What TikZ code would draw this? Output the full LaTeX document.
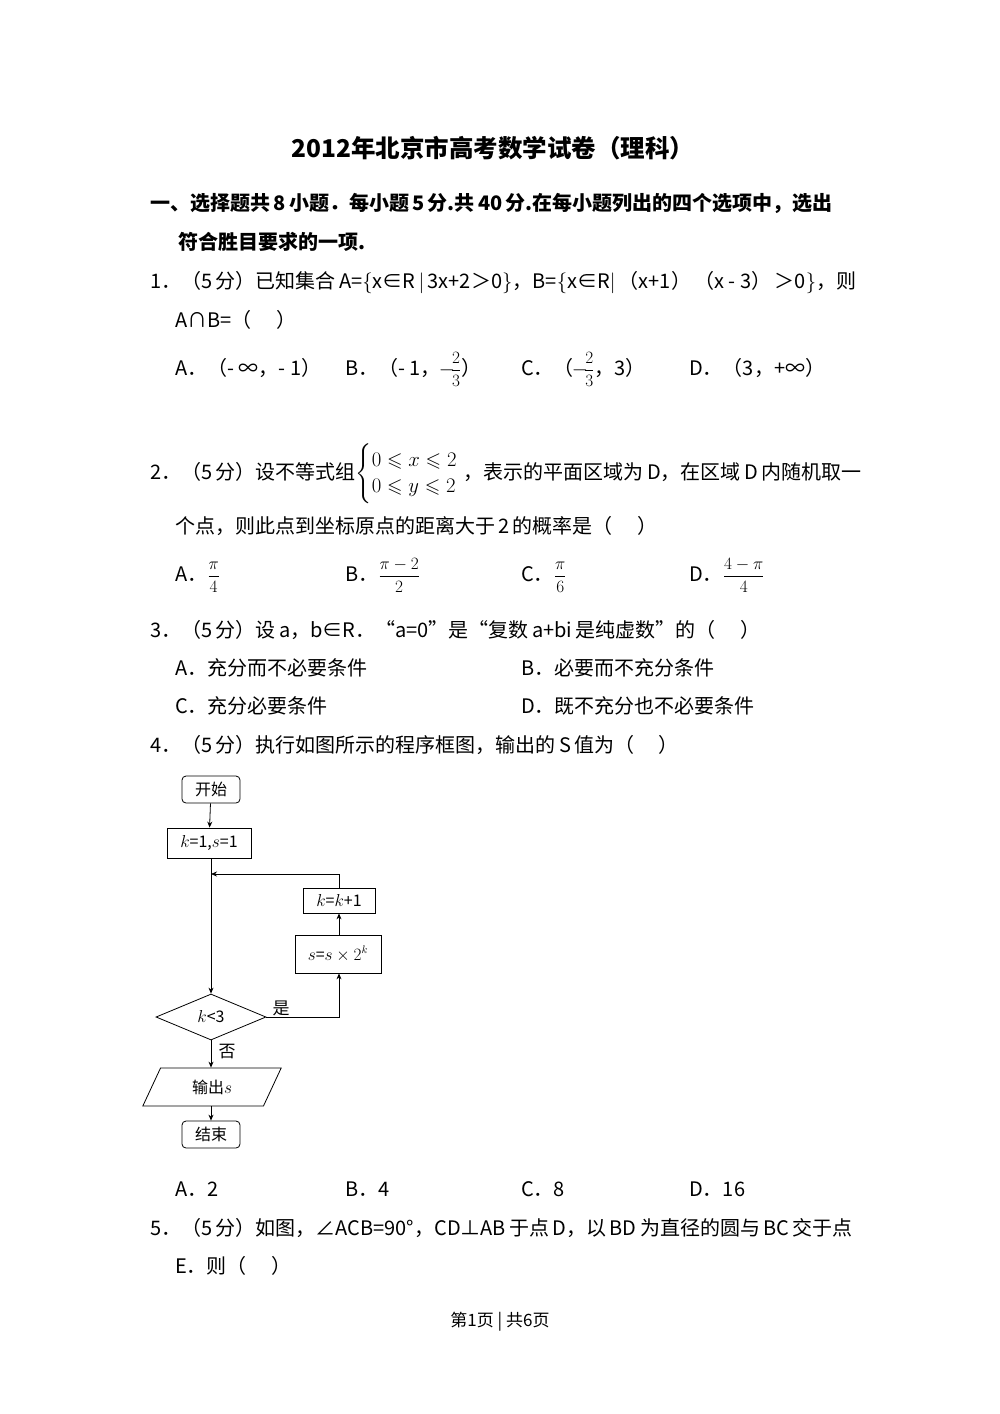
\documentclass[tikz,border=0pt]{standalone}
\usepackage{amsmath,amssymb}
\usepackage{fontspec}
\setmainfont{Noto Sans CJK SC}
\usetikzlibrary{shapes.geometric,arrows.meta}
\newcommand{\fr}[2]{{\fontsize{16}{18}\selectfont$\dfrac{#1}{#2}$}}
\begin{document}
\begin{tikzpicture}[x=1pt,y=-1pt,
  t/.style={anchor=base west,inner sep=0pt,font=\fontsize{20}{24}\selectfont},
  b/.style={draw,line width=0.8pt,inner sep=0pt,font=\fontsize{16}{18}\selectfont},
  ar/.style={-{Stealth[length=6pt,width=5pt]},line width=0.8pt},
  ln/.style={line width=0.8pt}]
\useasboundingbox (0,0) rectangle (1000,1414);
\fill[white] (0,0) rectangle (1000,1414);
\node[anchor=base,inner sep=0pt,font=\fontsize{24.5}{28}\selectfont\bfseries] (title) at (493,157) {2012年北京市高考数学试卷（理科）};
\node[t,font=\fontsize{20}{24}\selectfont\bfseries] (s1) at (150,210) {一、选择题共\,8\,小题．每小题\,5\,分.共\,40\,分.在每小题列出的四个选项中，选出};
\node[t,font=\fontsize{20}{24}\selectfont\bfseries] (s1b) at (178,249) {符合胜目要求的一项.};
\node[t] (q1) at (150,288) {1．（5\,分）已知集合\,A=$\{$x∈R\,$|$\,3x+2＞0$\}$，B=$\{$x∈R$|$\,（x+1）\,（x - 3）\,＞0$\}$，则};
\node[t] (q1b) at (175,327) {A∩B=（\quad\ ）};
\node[t] (q1A) at (175,375) {A．（- ∞，- 1）};
\node[t] (q1B) at (345,375) {B．（- 1，\hspace{-2pt}$-$\hspace{-4pt}\fr{2}{3}）};
\node[t] (q1C) at (521,375) {C．（\hspace{-2pt}$-$\hspace{-4pt}\fr{2}{3}，3）};
\node[t] (q1D) at (689,375) {D．（3，+∞）};
\node[t] (q2) at (150,479) {2．（5\,分）设不等式组$\begin{cases}0\leqslant x\leqslant 2\\[-2pt]0\leqslant y\leqslant 2\end{cases}$\hspace{-14pt}，表示的平面区域为\,D，在区域\,D\,内随机取一};
\node[t] (q2b) at (175,533) {个点，则此点到坐标原点的距离大于\,2\,的概率是（\quad\ ）};
\node[t] (q2A) at (175,581) {A．\fr{\pi}{4}};
\node[t] (q2B) at (345,581) {B．\fr{\pi-2}{2}};
\node[t] (q2C) at (521,581) {C．\fr{\pi}{6}};
\node[t] (q2D) at (689,581) {D．\fr{4-\pi}{4}};
\node[t] (q3) at (150,637) {3．（5\,分）设\,a，b∈R．“a=0”是“复数\,a+bi\,是纯虚数”的（\quad\ ）};
\node[t] (q3A) at (175,675) {A．充分而不必要条件};
\node[t] (q3B) at (521,675) {B．必要而不充分条件};
\node[t] (q3C) at (175,713) {C．充分必要条件};
\node[t] (q3D) at (521,713) {D．既不充分也不必要条件};
\node[t] (q4) at (150,752) {4．（5\,分）执行如图所示的程序框图，输出的\,S\,值为（\quad\ ）};
% flowchart
\node[b,rounded corners=4pt,minimum width=58pt,minimum height=27pt] (start) at (211,789.5) {开始};
\node[b,minimum width=84pt,minimum height=30pt] (init) at (209,843) {$k$=1,$s$=1};
\node[b,minimum width=72pt,minimum height=25pt] (inc) at (339,900.5) {$k$=$k$+1};
\node[b,minimum width=86pt,minimum height=38pt] (mul) at (338,954) {$s$=$s\times 2^{k}$};
\node[b,diamond,aspect=2.4,minimum width=110pt,minimum height=46pt] (cond) at (211,1017) {$k$<3};
\node[b,trapezium,trapezium left angle=65,trapezium right angle=115,minimum width=72pt,minimum height=38pt] (out) at (212,1087) {输出$s$};
\node[b,rounded corners=4pt,minimum width=58pt,minimum height=27pt] (end) at (211,1134.5) {结束};
\coordinate (jn) at (211,874);
\coordinate (ca) at (339,1017);
\coordinate (ct) at (339,874);
\draw[ar] (start) -- (init);
\draw[ar] (init.south -| jn) -- (cond.north);
\draw[ar] (cond.east) -- (ca) -- (mul.south -| ca);
\draw[ar] (mul.north -| ca) -- (inc.south -| ca);
\draw[ar] (inc.north -| ct) -- (ct) -- (jn);
\draw[ar] (cond.south) -- (out.north -| cond.south);
\draw[ar] (out.south -| end.north) -- (end.north);
\node[inner sep=0pt,font=\fontsize{17}{18}\selectfont] (yes) at (281,1008) {是};
\node[inner sep=0pt,font=\fontsize{17}{18}\selectfont] (no) at (227,1052) {否};
\node[t] (q4A) at (175,1196) {A．2};
\node[t] (q4B) at (345,1196) {B．4};
\node[t] (q4C) at (521,1196) {C．8};
\node[t] (q4D) at (689,1196) {D．16};
\node[t] (q5) at (150,1235) {5．（5\,分）如图，∠ACB=90°，CD⊥AB\,于点\,D，以\,BD\,为直径的圆与\,BC\,交于点};
\node[t] (q5b) at (175,1273) {E．则（\quad\ ）};
\node[anchor=base,inner sep=0pt,font=\fontsize{17}{18}\selectfont] (foot) at (500,1326) {第1页 | 共6页};
\end{tikzpicture}
\end{document}
